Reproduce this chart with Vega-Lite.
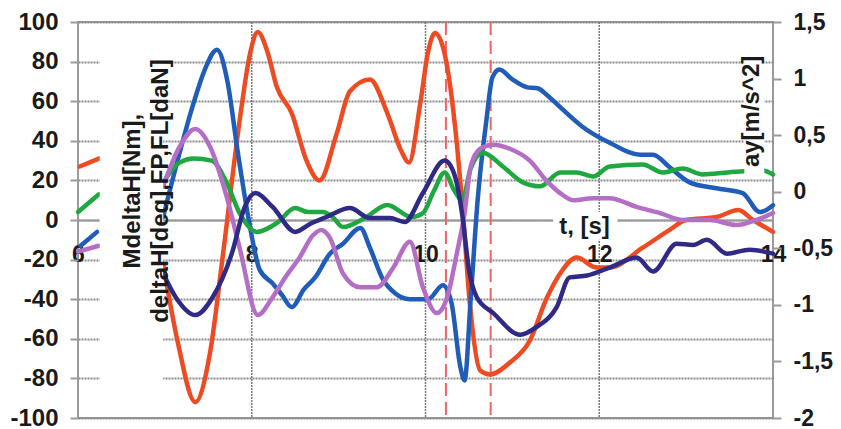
{
  "$schema": "https://vega.github.io/schema/vega-lite/v6.json",
  "width": 695,
  "height": 396,
  "autosize": {"type": "none"},
  "padding": {"left": 78, "top": 22, "right": 68, "bottom": 11},
  "background": "white",
  "config": {
    "view": {"stroke": "#9a9a9a", "strokeWidth": 2},
    "font": "Liberation Sans",
    "axis": {"labelFont": "Liberation Sans", "labelFontWeight": "bold", "labelFontSize": 24, "labelColor": "#1a1a1a", "title": null, "labelOverlap": false}
  },
  "datasets": {
    "lines": [
      {"s": "A", "g": "a", "t": 6.02, "v": 27}, {"s": "A", "g": "a", "t": 6.24, "v": 31},
      {"s": "C", "g": "a", "t": 6.0, "v": 4}, {"s": "C", "g": "a", "t": 6.24, "v": 13},
      {"s": "B", "g": "a", "t": 6.03, "v": -13}, {"s": "B", "g": "a", "t": 6.22, "v": -6},
      {"s": "D", "g": "a", "t": 6.0, "v": -16}, {"s": "D", "g": "a", "t": 6.24, "v": -13},

      {"s": "A", "g": "m", "t": 6.98, "v": -22}, {"s": "A", "g": "m", "t": 7.15, "v": -62}, {"s": "A", "g": "m", "t": 7.35, "v": -92},
      {"s": "A", "g": "m", "t": 7.52, "v": -67}, {"s": "A", "g": "m", "t": 7.67, "v": -17}, {"s": "A", "g": "m", "t": 7.86, "v": 50},
      {"s": "A", "g": "m", "t": 7.98, "v": 84}, {"s": "A", "g": "m", "t": 8.07, "v": 95}, {"s": "A", "g": "m", "t": 8.18, "v": 85},
      {"s": "A", "g": "m", "t": 8.29, "v": 67}, {"s": "A", "g": "m", "t": 8.46, "v": 54}, {"s": "A", "g": "m", "t": 8.63, "v": 30},
      {"s": "A", "g": "m", "t": 8.78, "v": 20}, {"s": "A", "g": "m", "t": 8.98, "v": 44}, {"s": "A", "g": "m", "t": 9.13, "v": 65},
      {"s": "A", "g": "m", "t": 9.36, "v": 71}, {"s": "A", "g": "m", "t": 9.56, "v": 54}, {"s": "A", "g": "m", "t": 9.72, "v": 35},
      {"s": "A", "g": "m", "t": 9.81, "v": 29}, {"s": "A", "g": "m", "t": 9.94, "v": 59}, {"s": "A", "g": "m", "t": 10.03, "v": 85},
      {"s": "A", "g": "m", "t": 10.11, "v": 94.5}, {"s": "A", "g": "m", "t": 10.22, "v": 84}, {"s": "A", "g": "m", "t": 10.36, "v": 39},
      {"s": "A", "g": "m", "t": 10.42, "v": 10}, {"s": "A", "g": "m", "t": 10.51, "v": -42}, {"s": "A", "g": "m", "t": 10.63, "v": -76},
      {"s": "A", "g": "m", "t": 10.74, "v": -78}, {"s": "A", "g": "m", "t": 10.97, "v": -72}, {"s": "A", "g": "m", "t": 11.2, "v": -61},
      {"s": "A", "g": "m", "t": 11.39, "v": -40}, {"s": "A", "g": "m", "t": 11.55, "v": -27}, {"s": "A", "g": "m", "t": 11.74, "v": -19},
      {"s": "A", "g": "m", "t": 11.97, "v": -24}, {"s": "A", "g": "m", "t": 12.12, "v": -24}, {"s": "A", "g": "m", "t": 12.5, "v": -14},
      {"s": "A", "g": "m", "t": 12.81, "v": -5}, {"s": "A", "g": "m", "t": 13.0, "v": 0}, {"s": "A", "g": "m", "t": 13.35, "v": 1.5},
      {"s": "A", "g": "m", "t": 13.6, "v": 5}, {"s": "A", "g": "m", "t": 13.77, "v": 0}, {"s": "A", "g": "m", "t": 14.0, "v": -6},

      {"s": "B", "g": "m", "t": 6.98, "v": 1.5}, {"s": "B", "g": "m", "t": 7.17, "v": 34}, {"s": "B", "g": "m", "t": 7.33, "v": 59},
      {"s": "B", "g": "m", "t": 7.46, "v": 76}, {"s": "B", "g": "m", "t": 7.6, "v": 86}, {"s": "B", "g": "m", "t": 7.72, "v": 70},
      {"s": "B", "g": "m", "t": 7.84, "v": 34}, {"s": "B", "g": "m", "t": 7.96, "v": 1.5}, {"s": "B", "g": "m", "t": 8.09, "v": -25},
      {"s": "B", "g": "m", "t": 8.24, "v": -32}, {"s": "B", "g": "m", "t": 8.35, "v": -38}, {"s": "B", "g": "m", "t": 8.46, "v": -44},
      {"s": "B", "g": "m", "t": 8.6, "v": -35}, {"s": "B", "g": "m", "t": 8.73, "v": -29}, {"s": "B", "g": "m", "t": 8.9, "v": -17},
      {"s": "B", "g": "m", "t": 9.05, "v": -12}, {"s": "B", "g": "m", "t": 9.25, "v": -4}, {"s": "B", "g": "m", "t": 9.36, "v": -14},
      {"s": "B", "g": "m", "t": 9.51, "v": -30}, {"s": "B", "g": "m", "t": 9.65, "v": -37}, {"s": "B", "g": "m", "t": 9.82, "v": -40},
      {"s": "B", "g": "m", "t": 10.03, "v": -40}, {"s": "B", "g": "m", "t": 10.2, "v": -33}, {"s": "B", "g": "m", "t": 10.3, "v": -42},
      {"s": "B", "g": "m", "t": 10.4, "v": -74}, {"s": "B", "g": "m", "t": 10.45, "v": -81}, {"s": "B", "g": "m", "t": 10.52, "v": -40},
      {"s": "B", "g": "m", "t": 10.6, "v": 10}, {"s": "B", "g": "m", "t": 10.7, "v": 50}, {"s": "B", "g": "m", "t": 10.77, "v": 72},
      {"s": "B", "g": "m", "t": 10.85, "v": 76}, {"s": "B", "g": "m", "t": 11.0, "v": 71}, {"s": "B", "g": "m", "t": 11.17, "v": 67},
      {"s": "B", "g": "m", "t": 11.29, "v": 66.5}, {"s": "B", "g": "m", "t": 11.4, "v": 63}, {"s": "B", "g": "m", "t": 11.55, "v": 57},
      {"s": "B", "g": "m", "t": 11.81, "v": 47}, {"s": "B", "g": "m", "t": 12.12, "v": 39}, {"s": "B", "g": "m", "t": 12.47, "v": 33},
      {"s": "B", "g": "m", "t": 12.62, "v": 33}, {"s": "B", "g": "m", "t": 12.8, "v": 27}, {"s": "B", "g": "m", "t": 13.04, "v": 19},
      {"s": "B", "g": "m", "t": 13.35, "v": 16}, {"s": "B", "g": "m", "t": 13.65, "v": 13.6}, {"s": "B", "g": "m", "t": 13.85, "v": 4},
      {"s": "B", "g": "m", "t": 14.0, "v": 7.5},

      {"s": "C", "g": "m", "t": 6.98, "v": 19}, {"s": "C", "g": "m", "t": 7.17, "v": 29}, {"s": "C", "g": "m", "t": 7.33, "v": 31},
      {"s": "C", "g": "m", "t": 7.54, "v": 30}, {"s": "C", "g": "m", "t": 7.71, "v": 19}, {"s": "C", "g": "m", "t": 7.86, "v": 3.5},
      {"s": "C", "g": "m", "t": 8.06, "v": -6}, {"s": "C", "g": "m", "t": 8.29, "v": -1.5}, {"s": "C", "g": "m", "t": 8.5, "v": 6},
      {"s": "C", "g": "m", "t": 8.65, "v": 4}, {"s": "C", "g": "m", "t": 8.82, "v": 4}, {"s": "C", "g": "m", "t": 8.93, "v": 1.5},
      {"s": "C", "g": "m", "t": 9.05, "v": -3.5}, {"s": "C", "g": "m", "t": 9.3, "v": 1}, {"s": "C", "g": "m", "t": 9.56, "v": 7.6},
      {"s": "C", "g": "m", "t": 9.84, "v": 1.5}, {"s": "C", "g": "m", "t": 9.97, "v": 3.5}, {"s": "C", "g": "m", "t": 10.1, "v": 15},
      {"s": "C", "g": "m", "t": 10.22, "v": 24}, {"s": "C", "g": "m", "t": 10.33, "v": 15}, {"s": "C", "g": "m", "t": 10.42, "v": 10},
      {"s": "C", "g": "m", "t": 10.52, "v": 26}, {"s": "C", "g": "m", "t": 10.66, "v": 34}, {"s": "C", "g": "m", "t": 10.89, "v": 27},
      {"s": "C", "g": "m", "t": 11.12, "v": 19}, {"s": "C", "g": "m", "t": 11.32, "v": 17}, {"s": "C", "g": "m", "t": 11.55, "v": 24},
      {"s": "C", "g": "m", "t": 11.74, "v": 24}, {"s": "C", "g": "m", "t": 11.93, "v": 22}, {"s": "C", "g": "m", "t": 12.12, "v": 27},
      {"s": "C", "g": "m", "t": 12.5, "v": 28}, {"s": "C", "g": "m", "t": 12.73, "v": 24}, {"s": "C", "g": "m", "t": 12.96, "v": 26},
      {"s": "C", "g": "m", "t": 13.19, "v": 23}, {"s": "C", "g": "m", "t": 13.48, "v": 24}, {"s": "C", "g": "m", "t": 13.88, "v": 25},
      {"s": "C", "g": "m", "t": 14.0, "v": 23},

      {"s": "D", "g": "m", "t": 6.98, "v": 17}, {"s": "D", "g": "m", "t": 7.17, "v": 37}, {"s": "D", "g": "m", "t": 7.35, "v": 46},
      {"s": "D", "g": "m", "t": 7.52, "v": 37}, {"s": "D", "g": "m", "t": 7.71, "v": 12}, {"s": "D", "g": "m", "t": 7.86, "v": -14},
      {"s": "D", "g": "m", "t": 8.07, "v": -48}, {"s": "D", "g": "m", "t": 8.24, "v": -39}, {"s": "D", "g": "m", "t": 8.4, "v": -28},
      {"s": "D", "g": "m", "t": 8.55, "v": -19}, {"s": "D", "g": "m", "t": 8.7, "v": -8}, {"s": "D", "g": "m", "t": 8.8, "v": -5},
      {"s": "D", "g": "m", "t": 8.9, "v": -9}, {"s": "D", "g": "m", "t": 9.05, "v": -27}, {"s": "D", "g": "m", "t": 9.25, "v": -34},
      {"s": "D", "g": "m", "t": 9.44, "v": -34}, {"s": "D", "g": "m", "t": 9.63, "v": -24}, {"s": "D", "g": "m", "t": 9.82, "v": -11},
      {"s": "D", "g": "m", "t": 9.97, "v": -34}, {"s": "D", "g": "m", "t": 10.13, "v": -47}, {"s": "D", "g": "m", "t": 10.25, "v": -39},
      {"s": "D", "g": "m", "t": 10.36, "v": -17}, {"s": "D", "g": "m", "t": 10.45, "v": 3.5}, {"s": "D", "g": "m", "t": 10.52, "v": 27},
      {"s": "D", "g": "m", "t": 10.63, "v": 36}, {"s": "D", "g": "m", "t": 10.78, "v": 38}, {"s": "D", "g": "m", "t": 10.97, "v": 36},
      {"s": "D", "g": "m", "t": 11.2, "v": 30}, {"s": "D", "g": "m", "t": 11.39, "v": 20}, {"s": "D", "g": "m", "t": 11.55, "v": 13.6},
      {"s": "D", "g": "m", "t": 11.7, "v": 10}, {"s": "D", "g": "m", "t": 11.93, "v": 11}, {"s": "D", "g": "m", "t": 12.12, "v": 11},
      {"s": "D", "g": "m", "t": 12.43, "v": 6.6}, {"s": "D", "g": "m", "t": 12.7, "v": 3.5}, {"s": "D", "g": "m", "t": 12.96, "v": 0},
      {"s": "D", "g": "m", "t": 13.27, "v": 0}, {"s": "D", "g": "m", "t": 13.58, "v": -2.5}, {"s": "D", "g": "m", "t": 13.81, "v": 0},
      {"s": "D", "g": "m", "t": 14.0, "v": 3.5},

      {"s": "E", "g": "m", "t": 6.98, "v": -27}, {"s": "E", "g": "m", "t": 7.14, "v": -40}, {"s": "E", "g": "m", "t": 7.35, "v": -48},
      {"s": "E", "g": "m", "t": 7.55, "v": -39}, {"s": "E", "g": "m", "t": 7.77, "v": -17}, {"s": "E", "g": "m", "t": 7.92, "v": 6.6},
      {"s": "E", "g": "m", "t": 8.04, "v": 13.6}, {"s": "E", "g": "m", "t": 8.24, "v": 6.6}, {"s": "E", "g": "m", "t": 8.5, "v": -6},
      {"s": "E", "g": "m", "t": 8.67, "v": -2}, {"s": "E", "g": "m", "t": 8.86, "v": 1.5}, {"s": "E", "g": "m", "t": 9.13, "v": 6},
      {"s": "E", "g": "m", "t": 9.36, "v": 1}, {"s": "E", "g": "m", "t": 9.59, "v": 1}, {"s": "E", "g": "m", "t": 9.76, "v": -1},
      {"s": "E", "g": "m", "t": 9.97, "v": 13.6}, {"s": "E", "g": "m", "t": 10.22, "v": 30}, {"s": "E", "g": "m", "t": 10.34, "v": 22},
      {"s": "E", "g": "m", "t": 10.42, "v": 3.5}, {"s": "E", "g": "m", "t": 10.5, "v": -25}, {"s": "E", "g": "m", "t": 10.59, "v": -39},
      {"s": "E", "g": "m", "t": 10.78, "v": -47}, {"s": "E", "g": "m", "t": 11.09, "v": -58}, {"s": "E", "g": "m", "t": 11.28, "v": -54},
      {"s": "E", "g": "m", "t": 11.51, "v": -44}, {"s": "E", "g": "m", "t": 11.66, "v": -29}, {"s": "E", "g": "m", "t": 11.86, "v": -28},
      {"s": "E", "g": "m", "t": 12.12, "v": -24}, {"s": "E", "g": "m", "t": 12.43, "v": -19}, {"s": "E", "g": "m", "t": 12.62, "v": -26},
      {"s": "E", "g": "m", "t": 12.89, "v": -12}, {"s": "E", "g": "m", "t": 13.08, "v": -12.6}, {"s": "E", "g": "m", "t": 13.24, "v": -10},
      {"s": "E", "g": "m", "t": 13.47, "v": -17}, {"s": "E", "g": "m", "t": 13.73, "v": -15}, {"s": "E", "g": "m", "t": 14.0, "v": -17}
    ]
  },
  "layer": [
    {
      "layer": [
        {
          "data": {"values": [{"t": 8}, {"t": 10}, {"t": 12}]},
          "mark": {"type": "rule", "color": "#7a7a7a", "strokeDash": [2, 1], "strokeWidth": 1.5},
          "encoding": {"x": {"field": "t", "type": "quantitative"}}
        },
        {
          "data": {"values": [{"t": 10.235}, {"t": 10.75}]},
          "mark": {"type": "rule", "color": "#f26262", "strokeDash": [13, 6], "strokeWidth": 2},
          "encoding": {"x": {"field": "t", "type": "quantitative"}}
        },
        {
          "data": {"name": "lines"},
          "mark": {"type": "line", "interpolate": "monotone", "strokeWidth": 4.5, "strokeCap": "round", "strokeJoin": "round"},
          "encoding": {
            "x": {
              "field": "t", "type": "quantitative", "scale": {"domain": [6, 14], "nice": false, "zero": false},
              "axis": {"orient": "bottom", "offset": -198, "values": [6, 8, 10, 12, 14], "tickCount": 20, "grid": false, "ticks": false, "tickSize": 0,
                       "domain": true, "domainColor": "#999999", "domainWidth": 2, "labelPadding": 23, "labelOverlap": false,
                       "labelFlush": false, "labelBound": false, "labelFontWeight": "bold", "labelFontSize": 23, "title": null,
                       "labelExpr": "format(datum.value, 'd')"}
            },
            "y": {
              "field": "v", "type": "quantitative", "scale": {"domain": [-100, 100], "nice": false, "zero": false},
              "axis": {"orient": "left", "values": [-100, -80, -60, -40, -20, 0, 20, 40, 60, 80, 100], "tickCount": 20, "grid": true,
                       "gridColor": "#8a8a8a", "gridDash": [2, 1], "gridWidth": 2, "domain": false, "tickColor": "#9a9a9a",
                       "tickWidth": 2, "tickSize": 8, "labelPadding": 12, "title": null, "labelOverlap": false,
                       "labelExpr": "replace(format(datum.value, 'd'), '\u2212', '-')"}
            },
            "color": {"field": "s", "type": "nominal", "legend": null,
                      "scale": {"domain": ["A", "B", "C", "D", "E"], "range": ["#EE4B22", "#1F5DB8", "#1FA83F", "#B46EC6", "#2E2A86"]}},
            "detail": {"field": "g"}
          }
        },
        {
          "data": {"values": [{"t": 6.25, "t2": 6.98, "v": -99, "v2": 99}, {"t": 11.47, "t2": 12.21, "v": -10, "v2": 4}]},
          "mark": {"type": "rect", "fill": "white", "stroke": null},
          "encoding": {
            "x": {"field": "t", "type": "quantitative"}, "x2": {"field": "t2"},
            "y": {"field": "v", "type": "quantitative"}, "y2": {"field": "v2"}
          }
        },
        {
          "data": {"values": [{"t": 6.63, "v": 14.6, "label": "MdeltaH[Nm],\ndeltaH[deg],FP,FL[daN]"}, {"t": 11.83, "v": -3.5, "label": "t, [s]"}]},
          "mark": {"type": "text", "fontSize": 24, "fontWeight": "bold", "font": "Liberation Sans", "color": "#1a1a1a", "lineBreak": "\n", "lineHeight": 28, "align": "center", "baseline": "middle"},
          "encoding": {
            "x": {"field": "t", "type": "quantitative"},
            "y": {"field": "v", "type": "quantitative"},
            "text": {"field": "label"},
            "angle": {"condition": {"test": "datum.t < 7", "value": 270}, "value": 0}
          }
        }
      ]
    },
    {
      "layer": [
        {
          "data": {"values": [{"t": 13.67, "t2": 13.9, "v": 0.13, "v2": 1.48}]},
          "mark": {"type": "rect", "fill": "white", "stroke": null},
          "encoding": {
            "x": {"field": "t", "type": "quantitative"}, "x2": {"field": "t2"},
            "y": {"field": "v", "type": "quantitative", "scale": {"domain": [-2, 1.5], "nice": false, "zero": false},
                  "axis": {"orient": "right", "values": [-2, -1.5, -1, -0.5, 0, 0.5, 1, 1.5], "tickCount": 20, "grid": false, "domain": false,
                           "tickColor": "#9a9a9a", "tickWidth": 2, "tickSize": 8, "labelPadding": 12, "title": null, "labelOverlap": false,
                           "labelFontSize": 23,
                           "labelExpr": "replace(replace(format(datum.value, '~g'), '.', ','), '\u2212', '-')"}},
            "y2": {"field": "v2"}
          }
        },
        {
          "data": {"values": [{"t": 13.76, "v": 0.71, "label": "ay[m/s^2]"}]},
          "mark": {"type": "text", "fontSize": 24, "fontWeight": "bold", "font": "Liberation Sans", "color": "#1a1a1a", "angle": 270, "align": "center", "baseline": "middle"},
          "encoding": {
            "x": {"field": "t", "type": "quantitative"},
            "y": {"field": "v", "type": "quantitative"},
            "text": {"field": "label"}
          }
        }
      ]
    }
  ],
  "resolve": {"scale": {"y": "independent"}, "axis": {"y": "independent"}}
}
